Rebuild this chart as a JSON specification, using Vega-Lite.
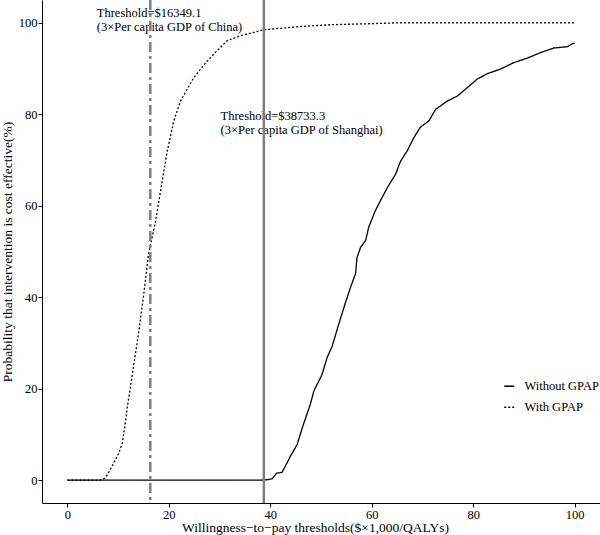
{
  "$schema": "https://vega.github.io/schema/vega-lite/v6.json",
  "width": 558,
  "height": 503,
  "autosize": {"type": "none"},
  "padding": {"left": 42, "top": 0, "right": 0, "bottom": 32},
  "background": "white",
  "config": {
    "view": {"stroke": null},
    "font": "Liberation Serif",
    "axis": {
      "grid": false,
      "domainColor": "black",
      "domainWidth": 1,
      "tickColor": "black",
      "tickSize": 4,
      "labelFont": "Liberation Serif",
      "labelFontSize": 12.5,
      "labelColor": "black",
      "labelPadding": 1,
      "titleFont": "Liberation Serif",
      "titleFontSize": 13.5,
      "titleFontWeight": "normal",
      "titleColor": "black"
    },
    "legend": {
      "labelFont": "Liberation Serif",
      "labelFontSize": 12.5,
      "labelColor": "black"
    }
  },
  "datasets": {
    "curves": [
      {"x": 0, "y": 0, "series": "Without GPAP"},
      {"x": 10, "y": 0, "series": "Without GPAP"},
      {"x": 20, "y": 0, "series": "Without GPAP"},
      {"x": 30, "y": 0, "series": "Without GPAP"},
      {"x": 38, "y": 0, "series": "Without GPAP"},
      {"x": 39.5, "y": 0.1, "series": "Without GPAP"},
      {"x": 40.4, "y": 0.3, "series": "Without GPAP"},
      {"x": 41.2, "y": 1.5, "series": "Without GPAP"},
      {"x": 42.3, "y": 1.7, "series": "Without GPAP"},
      {"x": 43.0, "y": 3.1, "series": "Without GPAP"},
      {"x": 44.0, "y": 5.3, "series": "Without GPAP"},
      {"x": 45.3, "y": 7.8, "series": "Without GPAP"},
      {"x": 46.3, "y": 11.4, "series": "Without GPAP"},
      {"x": 47.9, "y": 16.6, "series": "Without GPAP"},
      {"x": 48.6, "y": 19.5, "series": "Without GPAP"},
      {"x": 50.2, "y": 23.1, "series": "Without GPAP"},
      {"x": 51.2, "y": 26.8, "series": "Without GPAP"},
      {"x": 52.2, "y": 29.3, "series": "Without GPAP"},
      {"x": 53.5, "y": 34.1, "series": "Without GPAP"},
      {"x": 54.5, "y": 37.7, "series": "Without GPAP"},
      {"x": 55.8, "y": 42.1, "series": "Without GPAP"},
      {"x": 56.8, "y": 45.1, "series": "Without GPAP"},
      {"x": 57.1, "y": 48.7, "series": "Without GPAP"},
      {"x": 57.8, "y": 50.9, "series": "Without GPAP"},
      {"x": 58.8, "y": 52.4, "series": "Without GPAP"},
      {"x": 59.4, "y": 55.3, "series": "Without GPAP"},
      {"x": 60.7, "y": 58.9, "series": "Without GPAP"},
      {"x": 61.7, "y": 61.1, "series": "Without GPAP"},
      {"x": 63.1, "y": 64.0, "series": "Without GPAP"},
      {"x": 64.7, "y": 66.9, "series": "Without GPAP"},
      {"x": 65.7, "y": 69.8, "series": "Without GPAP"},
      {"x": 67.0, "y": 72.0, "series": "Without GPAP"},
      {"x": 68.3, "y": 74.9, "series": "Without GPAP"},
      {"x": 69.6, "y": 77.2, "series": "Without GPAP"},
      {"x": 71.3, "y": 78.6, "series": "Without GPAP"},
      {"x": 72.6, "y": 81.1, "series": "Without GPAP"},
      {"x": 74.9, "y": 82.9, "series": "Without GPAP"},
      {"x": 76.9, "y": 84.0, "series": "Without GPAP"},
      {"x": 78.8, "y": 85.8, "series": "Without GPAP"},
      {"x": 80.8, "y": 87.7, "series": "Without GPAP"},
      {"x": 82.8, "y": 88.9, "series": "Without GPAP"},
      {"x": 85.4, "y": 89.9, "series": "Without GPAP"},
      {"x": 88.0, "y": 91.3, "series": "Without GPAP"},
      {"x": 90.7, "y": 92.3, "series": "Without GPAP"},
      {"x": 93.3, "y": 93.5, "series": "Without GPAP"},
      {"x": 95.9, "y": 94.5, "series": "Without GPAP"},
      {"x": 98.6, "y": 94.8, "series": "Without GPAP"},
      {"x": 99.5, "y": 95.4, "series": "Without GPAP"},
      {"x": 100, "y": 95.6, "series": "Without GPAP"},
      {"x": 0, "y": 0, "series": "With GPAP"},
      {"x": 5.5, "y": 0, "series": "With GPAP"},
      {"x": 6.5, "y": 0.05, "series": "With GPAP"},
      {"x": 7.3, "y": 0.4, "series": "With GPAP"},
      {"x": 7.9, "y": 1.2, "series": "With GPAP"},
      {"x": 8.7, "y": 2.8, "series": "With GPAP"},
      {"x": 9.4, "y": 4.3, "series": "With GPAP"},
      {"x": 10.1, "y": 5.8, "series": "With GPAP"},
      {"x": 10.8, "y": 8.0, "series": "With GPAP"},
      {"x": 11.3, "y": 11.5, "series": "With GPAP"},
      {"x": 11.8, "y": 15.8, "series": "With GPAP"},
      {"x": 12.8, "y": 23.1, "series": "With GPAP"},
      {"x": 14.1, "y": 32.6, "series": "With GPAP"},
      {"x": 15.05, "y": 40.6, "series": "With GPAP"},
      {"x": 16.0, "y": 49.4, "series": "With GPAP"},
      {"x": 17.4, "y": 56.7, "series": "With GPAP"},
      {"x": 18.7, "y": 65.5, "series": "With GPAP"},
      {"x": 19.7, "y": 72.0, "series": "With GPAP"},
      {"x": 21.0, "y": 78.6, "series": "With GPAP"},
      {"x": 22.3, "y": 82.9, "series": "With GPAP"},
      {"x": 24.9, "y": 88.0, "series": "With GPAP"},
      {"x": 27.6, "y": 91.7, "series": "With GPAP"},
      {"x": 29.5, "y": 93.9, "series": "With GPAP"},
      {"x": 31.5, "y": 96.1, "series": "With GPAP"},
      {"x": 34.1, "y": 97.2, "series": "With GPAP"},
      {"x": 36.7, "y": 97.9, "series": "With GPAP"},
      {"x": 38.7, "y": 98.5, "series": "With GPAP"},
      {"x": 46, "y": 99.2, "series": "With GPAP"},
      {"x": 52, "y": 99.6, "series": "With GPAP"},
      {"x": 59, "y": 99.8, "series": "With GPAP"},
      {"x": 65, "y": 100, "series": "With GPAP"},
      {"x": 100, "y": 100, "series": "With GPAP"}
    ],
    "notes": [
      {"x": 5.8, "y": 102.2, "label": "Threshold=$16349.1"},
      {"x": 5.8, "y": 99.1, "label": "(3×Per capita GDP of China)"},
      {"x": 30.2, "y": 79.6, "label": "Threshold=$38733.3"},
      {"x": 30.2, "y": 76.5, "label": "(3×Per capita GDP of Shanghai)"}
    ],
    "china": [{"x": 16.3491}],
    "shanghai": [{"x": 38.7333}]
  },
  "layer": [
    {
      "data": {"name": "curves"},
      "mark": {"type": "line", "color": "black", "strokeWidth": 1.3},
      "encoding": {
        "x": {
          "field": "x", "type": "quantitative",
          "scale": {"domain": [-5, 105], "nice": false, "zero": false},
          "axis": {"values": [0, 20, 40, 60, 80, 100], "title": "Willingness−to−pay thresholds($×1,000/QALYs)", "titleBaseline": "alphabetic", "titleY": 28.5, "titleX": 273}
        },
        "y": {
          "field": "y", "type": "quantitative",
          "scale": {"domain": [-5, 105], "nice": false, "zero": false},
          "axis": {"values": [0, 20, 40, 60, 80, 100], "title": "Probability that intervention is cost effective(%)", "titleX": -35, "titleBaseline": "middle"}
        },
        "strokeDash": {
          "field": "series", "type": "nominal",
          "scale": {"domain": ["Without GPAP", "With GPAP"], "range": [[1, 0], [2, 2]]},
          "legend": {
            "title": null,
            "orient": "none",
            "legendX": 461,
            "legendY": 380,
            "symbolType": "stroke",
            "symbolSize": 100,
            "symbolStrokeColor": "black",
            "symbolStrokeWidth": 1.3,
            "labelOffset": 9,
            "rowPadding": 8,
            "padding": 0
          }
        }
      }
    },
    {
      "data": {"name": "notes"},
      "mark": {"type": "text", "align": "left", "baseline": "middle", "font": "Liberation Serif", "fontSize": 12.5, "color": "black"},
      "encoding": {
        "x": {"field": "x", "type": "quantitative"},
        "y": {"field": "y", "type": "quantitative"},
        "text": {"field": "label", "type": "nominal"}
      }
    },
    {
      "data": {"name": "china"},
      "mark": {"type": "rule", "color": "#7f7f7f", "strokeWidth": 2.5, "strokeDash": [10, 4, 3, 4]},
      "encoding": {"x": {"field": "x", "type": "quantitative"}}
    },
    {
      "data": {"name": "shanghai"},
      "mark": {"type": "rule", "color": "#7f7f7f", "strokeWidth": 2.5},
      "encoding": {"x": {"field": "x", "type": "quantitative"}}
    }
  ]
}
